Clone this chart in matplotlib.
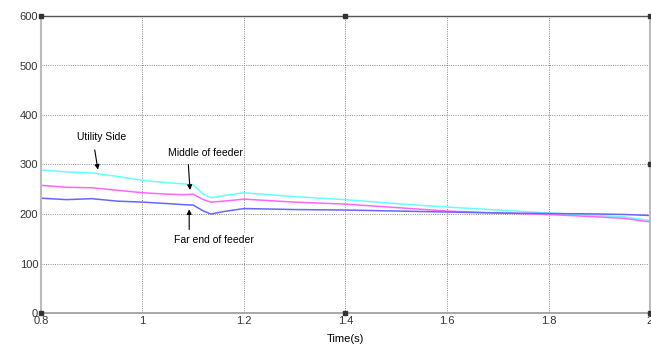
import matplotlib
matplotlib.use("Agg")
import matplotlib.pyplot as plt

plt.rcParams['font.family'] = ['Liberation Sans', 'DejaVu Sans']

time = [0.80, 0.85, 0.90, 0.95, 1.00, 1.05, 1.08, 1.10, 1.12, 1.135, 1.16, 1.20, 1.25, 1.30, 1.40, 1.50, 1.60, 1.70, 1.80, 1.90, 1.95, 2.00]
utility_side = [289, 285, 283, 276, 268, 263, 261, 259, 240, 233, 237, 243, 239, 235, 229, 221, 214, 208, 202, 197, 194, 187]
middle_feeder = [258, 254, 253, 248, 243, 240, 239, 240, 229, 224, 226, 230, 227, 224, 220, 213, 206, 202, 199, 194, 191, 184]
far_end = [232, 229, 231, 226, 224, 221, 219, 218, 206, 200, 205, 211, 210, 209, 208, 206, 204, 202, 201, 200, 199, 197]

xticks = [0.8, 1.0, 1.2, 1.4, 1.6, 1.8, 2.0]
xtick_labels = ['0.8', '1', '1.2', '1.4', '1.6', '1.8', '2']
yticks = [0, 100, 200, 300, 400, 500, 600]

fig = plt.figure(figsize=(6.51, 3.45), dpi=100)
ax = fig.add_axes([41/651, 1-313/345, (650-41)/651, (313-16)/345])

ax.plot(time, utility_side, color='#66ffff', lw=1.1)
ax.plot(time, middle_feeder, color='#ff66ff', lw=1.1)
ax.plot(time, far_end, color='#6666ff', lw=1.1)

ax.set_xlim(0.8, 2.0)
ax.set_ylim(0, 600)
ax.set_xticks(xticks)
ax.set_xticklabels(xtick_labels)
ax.set_yticks(yticks)
ax.tick_params(labelsize=8, length=0, pad=2, colors='#333333')
ax.grid(True, color='#777777', linestyle=(0, (1.2, 1.5)), lw=0.6)

for s in ['left', 'right']:
    ax.spines[s].set_color('#bbbbbb')
    ax.spines[s].set_linewidth(1.5)
ax.spines['bottom'].set_color('#999999')
ax.spines['bottom'].set_linewidth(1.2)
ax.spines['top'].set_color('#555555')
ax.spines['top'].set_linestyle((0, (1.5, 1)))
ax.spines['top'].set_linewidth(1.0)

# MATLAB-style small square markers
for (xx, yy) in [(0.8, 600), (2.0, 600), (0.8, 0), (1.4, 0), (2.0, 0), (1.4, 600), (2.0, 300)]:
    ax.plot([xx], [yy], marker='s', ms=3, color='#333333', clip_on=False, zorder=5)

ax.set_xlabel('Time(s)', fontsize=8, labelpad=6)
ax.set_ylabel('V', fontsize=9, labelpad=14)

arrow = dict(arrowstyle='-|>', color='black', lw=0.8, mutation_scale=7)
ax.text(0.87, 355, 'Utility Side', fontsize=7.5, ha='left', va='center')
ax.annotate('', xy=(0.913, 284), xytext=(0.905, 335), arrowprops=arrow)
ax.text(1.05, 323, 'Middle of feeder', fontsize=7.5, ha='left', va='center',
        bbox=dict(facecolor='white', edgecolor='none', pad=1))
ax.annotate('', xy=(1.094, 243), xytext=(1.090, 305), arrowprops=arrow)
ax.text(1.062, 148, 'Far end of feeder', fontsize=7.5, ha='left', va='center',
        bbox=dict(facecolor='white', edgecolor='none', pad=1))
ax.annotate('', xy=(1.092, 215), xytext=(1.092, 163), arrowprops=arrow)

fig.savefig('out.png', dpi=100)
